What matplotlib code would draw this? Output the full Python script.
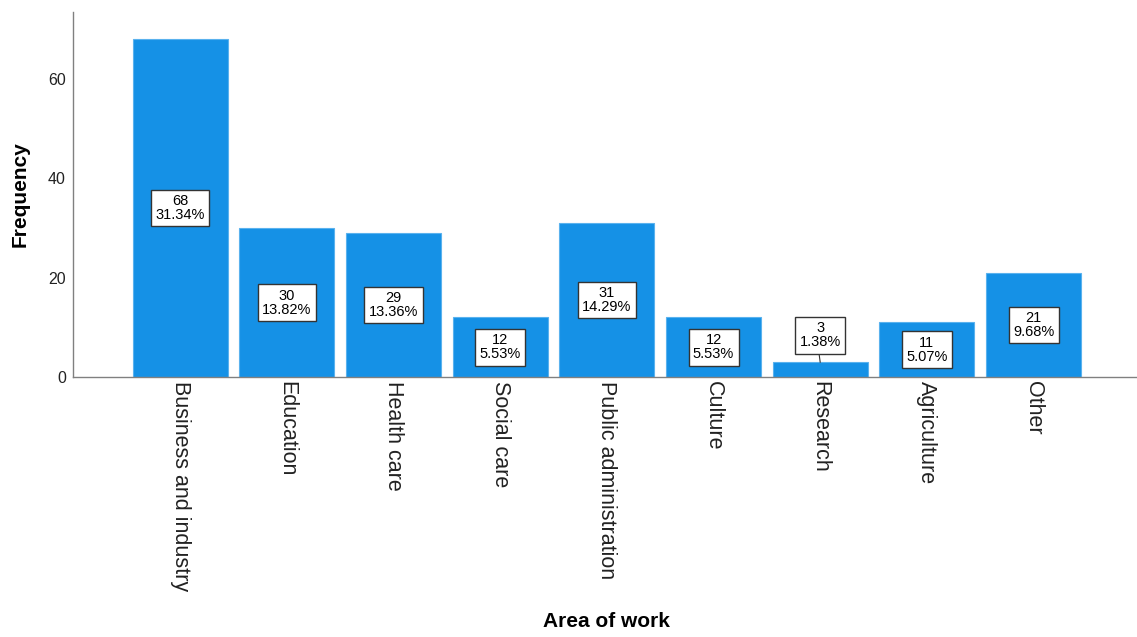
import matplotlib.pyplot as plt

categories = ["Business and industry", "Education", "Health care", "Social care",
              "Public administration", "Culture", "Research", "Agriculture", "Other"]
counts = [68, 30, 29, 12, 31, 12, 3, 11, 21]
percents = ["31.34%", "13.82%", "13.36%", "5.53%", "14.29%", "5.53%", "1.38%", "5.07%", "9.68%"]

plt.rcParams["font.family"] = ["Liberation Sans", "DejaVu Sans"]

fig = plt.figure(figsize=(11.37, 6.37), dpi=100)
ax = fig.add_axes([0.064, 0.408, 0.936, 0.573])

x = list(range(len(categories)))
ax.bar(x, counts, width=0.89, color="#1591E6", edgecolor="#5AB2EE", linewidth=0.8)

for i, (c, p) in enumerate(zip(counts, percents)):
    ypos = c / 2
    if c < 6:
        # small bar: label lifted above with a leader line
        ypos = 8.4
        ax.plot([i, i - 0.02], [c, ypos - 2.2], color="#333333", lw=0.8)
    ax.text(i, ypos, f"{c}\n{p}", ha="center", va="center", fontsize=10.5,
            linespacing=1.0,
            bbox=dict(boxstyle="square,pad=0.3", fc="white", ec="#333333", lw=1))

ax.set_xlim(-1.007, 8.97)
ax.set_ylim(0, 73.4)
ax.set_yticks([0, 20, 40, 60])
ax.tick_params(axis="y", length=0, labelsize=11.5, pad=5, labelcolor="#222222")
ax.tick_params(axis="x", length=0, labelsize=15.5, pad=3)
ax.set_xticks(x)
ax.set_xticklabels(categories, rotation=270, va="top", ha="center", color="#222222")

for s in ["top", "right"]:
    ax.spines[s].set_visible(False)
for s in ["left", "bottom"]:
    ax.spines[s].set_color("#808080")
    ax.spines[s].set_linewidth(1)

ax.set_ylabel("Frequency", fontsize=15, fontweight="bold")
ax.yaxis.set_label_coords(-(73 - 30) / (1137 - 73), 0.5)
ax.set_xlabel("Area of work", fontsize=15, fontweight="bold")
ax.xaxis.set_label_coords((607 - 73) / (1137 - 73), -(612 - 377) / 365)

fig.savefig("out.png", dpi=100)
